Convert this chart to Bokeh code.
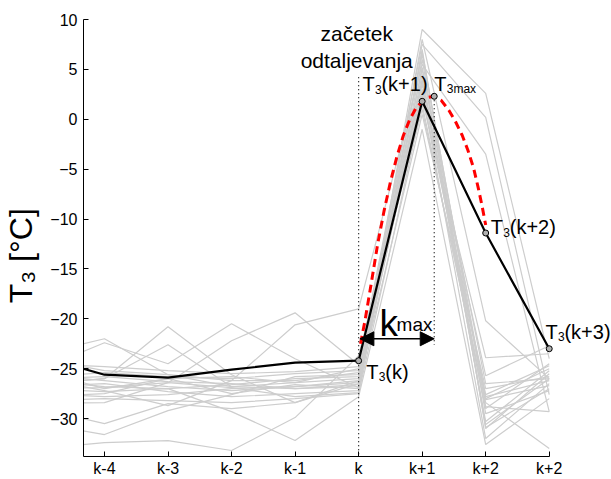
from bokeh.plotting import figure
from bokeh.models import Label, Arrow, NormalHead
from bokeh.embed import file_html
from bokeh.resources import INLINE

# ---------------- data ----------------
x_idx = [-5, -4, -3, -2, -1, 0, 1, 2, 3]
x_tick_vals = [-4, -3, -2, -1, 0, 1, 2, 3]
x_tick_labels = ["k-4", "k-3", "k-2", "k-1", "k", "k+1", "k+2", "k+2"]
y_tick_vals = [-30, -25, -20, -15, -10, -5, 0, 5, 10]
y_tick_labels = ["\u221230", "\u221225", "\u221220", "\u221215", "\u221210", "\u22125", "0", "5", "10"]

gray_series = [
    [-23.5, -22.0, -25.6, -26.8, -26.4, -25.0, 6.5, -28.1, -26.7],
    [-25.0, -22.4, -24.5, -20.5, -24.0, -26.9, 4.0, -30.3, -25.2],
    [-26.5, -26.0, -20.8, -25.6, -28.4, -26.2, 9.0, 2.6, -24.0],
    [-28.5, -28.4, -26.4, -22.2, -19.4, -24.6, 7.5, 0.2, -27.6],
    [-26.0, -27.2, -28.7, -26.2, -20.6, -19.0, 5.5, -3.5, -29.3],
    [-25.6, -26.2, -26.8, -27.2, -26.8, -26.4, 3.0, -25.7, -22.7],
    [-30.5, -31.6, -29.2, -27.6, -25.8, -25.6, 2.5, -27.6, -24.7],
    [-33.0, -32.4, -32.2, -33.2, -29.9, -23.7, 1.0, -28.4, -33.0],
    [-27.0, -27.3, -27.0, -29.3, -32.2, -27.8, -1.0, -32.6, -28.0],
    [-26.0, -25.8, -26.3, -26.5, -27.0, -26.8, 4.5, -30.6, -26.0],
    [-26.8, -26.5, -27.3, -27.8, -27.5, -27.2, 6.0, -30.9, -27.0],
    [-25.8, -25.4, -25.8, -26.0, -25.5, -25.2, 2.0, -23.9, -23.5],
    [-27.5, -27.8, -27.6, -27.0, -26.8, -26.2, 8.0, -20.2, -26.0],
    [-26.2, -26.8, -27.0, -26.6, -26.0, -25.8, 3.5, -28.0, -25.0],
    [-24.5, -24.8, -25.2, -25.5, -25.3, -24.8, 5.0, -26.5, -26.0],
    [-28.2, -28.0, -28.2, -28.4, -28.0, -27.5, 1.5, -29.0, -24.5],
    [-27.0, -26.9, -26.4, -26.9, -27.8, -27.4, 7.0, -31.0, -25.5],
    [-25.2, -27.0, -26.0, -25.8, -26.4, -26.0, 2.8, -32.0, -26.5],
    [-29.0, -30.5, -28.5, -29.0, -28.4, -26.5, 0.5, -27.0, -25.8],
    [-24.0, -25.2, -25.6, -26.2, -26.2, -25.4, 3.8, -27.8, -26.2],
    [-27.8, -27.5, -26.0, -27.5, -26.6, -27.0, 5.2, -29.5, -27.2],
    [-26.6, -26.0, -22.6, -26.8, -27.0, -26.6, 6.8, -28.8, -29.3],
]

black_series = [-23.8, -25.6, -25.9, -25.1, -24.4, -24.2, 1.8, -11.4, -23.0]

red_x = [0.03, 0.10, 0.20, 0.30, 0.40, 0.50, 0.60, 0.70, 0.80, 0.90, 1.00, 1.10, 1.19,
         1.30, 1.42, 1.53, 1.63, 1.72, 1.81, 1.88, 1.94, 2.00]
red_y = [-22.5, -20.2, -16.4, -12.5, -9.2, -6.3, -3.8, -1.7, -0.1, 1.1, 1.8, 2.2, 2.3,
         1.9, 0.9, -0.3, -1.6, -3.1, -4.9, -6.8, -8.6, -10.6]

marker_x = [0, 1, 1.19, 2, 3]
marker_y = [-24.2, 1.8, 2.3, -11.4, -23.0]

k_x = 0.0          # start of defrost
kmax_x = 1.19      # position of T3max
k_line_top = 4.2
kmax_line_bottom = -22.6
arrow_y = -22.0

X_MIN, X_LAST, X_END = -4.33, 3.0, 3.98
Y_MIN, Y_MAX = -33.8, 10

FONT = "Liberation Sans"

p = figure(width=611, height=479, x_range=(X_MIN, X_END), y_range=(Y_MIN, Y_MAX),
           output_backend="svg", toolbar_location=None,
           min_border_left=79, min_border_right=0, min_border_top=19, min_border_bottom=22)
p.outline_line_color = None
p.grid.visible = False
p.background_fill_color = "white"
p.border_fill_color = "white"

for s in gray_series:
    p.line(x_idx, s, line_color="#cdcdcd", line_width=1.2)

p.line(x_idx, black_series, line_color="black", line_width=2.2)
p.line(red_x, red_y, line_color="#ff0000", line_width=3, line_dash="8 5")

p.line([k_x, k_x], [k_line_top, Y_MIN], line_color="black", line_width=1.2, line_dash="1 3")
p.line([kmax_x, kmax_x], [marker_y[2], kmax_line_bottom], line_color="black", line_width=1.2, line_dash="1 3")

p.add_layout(Arrow(start=NormalHead(size=14, fill_color="black", line_color="black"),
                   end=NormalHead(size=14, fill_color="black", line_color="black"),
                   x_start=k_x + 0.02, y_start=arrow_y, x_end=kmax_x, y_end=arrow_y,
                   line_color="black", line_width=1.5))

p.scatter(marker_x, marker_y, size=6, fill_color="#b0b0b0", line_color="black", line_width=1)

# axes
p.xaxis.ticker = x_tick_vals
p.xaxis.major_label_overrides = dict(zip(x_tick_vals, x_tick_labels))
p.xaxis.bounds = (X_MIN, X_LAST)
p.yaxis.ticker = y_tick_vals
p.yaxis.major_label_overrides = dict(zip(y_tick_vals, y_tick_labels))
for ax in (p.xaxis, p.yaxis):
    ax.major_tick_in = 5
    ax.major_tick_out = 0
    ax.minor_tick_line_color = None
    ax.axis_line_color = "black"
    ax.major_tick_line_color = "black"
    ax.major_label_text_font = FONT
    ax.major_label_text_font_size = "16px"
    ax.major_label_text_color = "black"
p.xaxis.major_label_standoff = 3
p.yaxis.major_label_standoff = 6
p.yaxis.axis_label = "T\u2083 [\u00b0C]\u00a0\u00a0\u00a0\u00a0"
p.yaxis.axis_label_text_font = FONT
p.yaxis.axis_label_text_font_size = "32px"
p.yaxis.axis_label_text_font_style = "normal"
p.yaxis.axis_label_text_color = "black"
p.yaxis.axis_label_standoff = 8

BASE_SHIFT = 8  # screen px correction so that y is the text baseline


def add_label(x, y, text, size, xo=0, yo=0, align="left"):
    p.add_layout(Label(x=x, y=y, text=text, x_offset=xo, y_offset=yo + BASE_SHIFT,
                       text_font=FONT, text_font_size=f"{size}px",
                       text_color="black", text_align=align, text_baseline="alphabetic"))


def t3_label(x, y, rest, sub="3"):
    add_label(x, y, "T", 20)
    add_label(x, y, sub, 12, xo=12.5, yo=-5)
    if rest:
        add_label(x, y, rest, 20, xo=19)


add_label(-0.03, 7.8, "za\u010detek", 21, align="center")
add_label(-0.03, 5.1, "odtaljevanja", 21, align="center")
t3_label(0.06, 2.7, "(k+1)")
t3_label(1.19, 2.7, "", sub="3max")
t3_label(2.08, -11.6, "(k+2)")
t3_label(2.94, -22.1, "(k+3)")
t3_label(0.12, -26.1, "(k)")
add_label(0.33, -21.3, "k", 37)
add_label(0.33, -21.3, "max", 19, xo=17, yo=-1)

open("out.html", "w").write(file_html(p, INLINE))
